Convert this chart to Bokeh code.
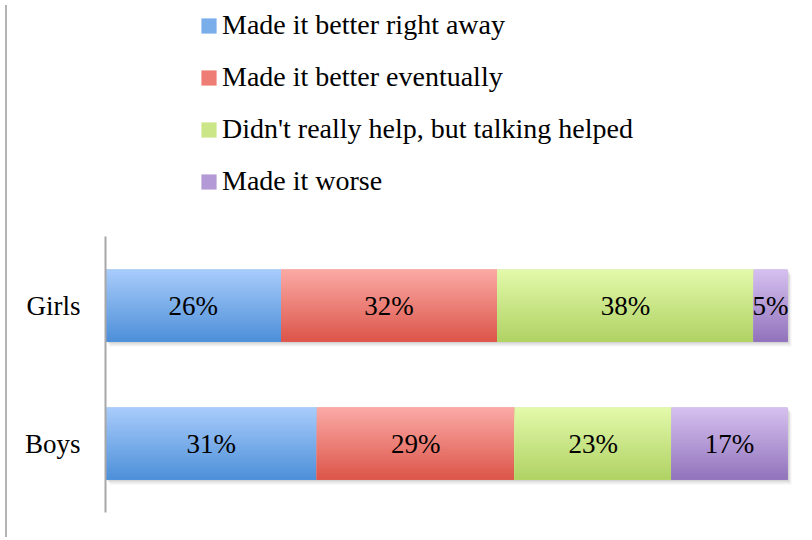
from bokeh.plotting import figure
from bokeh.models import Range1d, FixedTicker, Legend, LegendItem, ColumnDataSource, Div
from bokeh.layouts import row
from bokeh.core.properties import value
from bokeh.embed import file_html
from bokeh.resources import INLINE

# ---- data ----
groups = ["Boys", "Girls"]
series = ["Made it better right away", "Made it better eventually",
          "Didn't really help, but talking helped", "Made it worse"]
girls_values = [26, 32, 38, 5]
boys_values = [31, 29, 23, 17]
values = {"Boys": boys_values, "Girls": girls_values}

# ---- styles ----
top_colors = ["#a9ccfb", "#fbaaa5", "#e3f9ab", "#d6c1f0"]
bottom_colors = ["#4d8fd9", "#dc554a", "#b0d263", "#9173bb"]
mid_colors = ["#79aeeb", "#ee7d75", "#cbe687", "#b39ad6"]
FONT = "Liberation Serif"
BAR_H = 0.52
N_STRIPS = 24

W, H = 794, 532
LEFT, BOTTOM = 93, 20
PX_PER_100 = 682.0
PX_PER_GROUP = 138.0
x_end = (W - LEFT) / PX_PER_100 * 100
y_start = -0.5
y_end = y_start + (H - BOTTOM) / PX_PER_GROUP

p = figure(width=W, height=H, output_backend="svg", toolbar_location=None,
           x_range=Range1d(0, x_end), y_range=Range1d(y_start, y_end),
           min_border_left=LEFT, min_border_right=0, min_border_top=0,
           min_border_bottom=BOTTOM)
p.outline_line_color = None
p.grid.visible = False
p.xaxis.visible = False
p.background_fill_color = None
p.border_fill_color = None

yax = p.yaxis[0]
yax.ticker = FixedTicker(ticks=list(range(len(groups))))
yax.bounds = (-0.5, len(groups) - 0.5)
yax.major_label_overrides = {i: g for i, g in enumerate(groups)}
yax.major_tick_line_color = None
yax.minor_tick_line_color = None
yax.axis_line_color = "#a8a8a8"
yax.axis_line_width = 2
yax.major_label_text_font = FONT
yax.major_label_text_font_size = "27px"
yax.major_label_text_color = "#000000"
yax.major_label_standoff = 19


def hex2rgb(h):
    h = h.lstrip("#")
    return [int(h[i:i + 2], 16) for i in (0, 2, 4)]


def interp(c1, c2, t):
    a, b = hex2rgb(c1), hex2rgb(c2)
    return "#%02x%02x%02x" % tuple(int(round(a[i] + (b[i] - a[i]) * t)) for i in range(3))


# shadows
for dx_px, dy_px, alpha in [(1, 1, 0.10), (2.5, 3, 0.07), (4, 5, 0.05)]:
    dx = dx_px / PX_PER_100 * 100
    dy = dy_px / PX_PER_GROUP
    sl, sr, sb, st = [], [], [], []
    for gi, g in enumerate(groups):
        sl.append(dx)
        sr.append(100 + dx)
        sb.append(gi - BAR_H / 2 - dy)
        st.append(gi + BAR_H / 2 - dy)
    p.quad(left=sl, right=sr, bottom=sb, top=st, fill_color="#000000",
           fill_alpha=alpha, line_color=None)

renderers = []
lab_x, lab_y, lab_t = [], [], []
for si, s in enumerate(series):
    lefts, rights, bottoms, tops = [], [], [], []
    for gi, g in enumerate(groups):
        vals = values[g]
        tot = float(sum(vals))
        start = sum(vals[:si]) / tot * 100
        end = sum(vals[:si + 1]) / tot * 100
        lefts.append(start)
        rights.append(end)
        bottoms.append(gi - BAR_H / 2)
        tops.append(gi + BAR_H / 2)
        lab_x.append((start + end) / 2)
        lab_y.append(gi)
        lab_t.append(f"{vals[si]}%")
    src = ColumnDataSource(dict(left=lefts, right=rights, bottom=bottoms, top=tops))
    r = p.quad(left="left", right="right", bottom="bottom", top="top", source=src,
               fill_color=mid_colors[si], line_color=None)
    renderers.append(r)
    # gradient shading strips
    for k in range(N_STRIPS):
        t = (k + 0.5) / N_STRIPS
        col = interp(top_colors[si], bottom_colors[si], t)
        strip_top = [tp - BAR_H * k / N_STRIPS for tp in tops]
        p.quad(left=lefts, right=rights, bottom=bottoms, top=strip_top,
               fill_color=col, line_color=None)

p.text(x=lab_x, y=lab_y, text=lab_t, text_align="center", text_baseline="middle",
       text_font=value(FONT), text_font_size="27px", text_color="#000000")

legend = Legend(items=[LegendItem(label=s, renderers=[renderers[i]]) for i, s in enumerate(series)],
                location=(94, 315), orientation="vertical")
legend.glyph_width = 19
legend.glyph_height = 19
legend.label_height = 15
legend.label_standoff = 4
legend.spacing = 20
legend.padding = 0
legend.margin = 0
legend.border_line_color = None
legend.background_fill_alpha = 0
legend.label_text_font = FONT
legend.label_text_font_size = "28px"
legend.label_text_color = "#000000"
p.add_layout(legend, "center")

border = Div(width=2, height=H, styles={"background-color": "#b3b3b3"})
layout = row(border, p, spacing=0)

open("out.html", "w").write(file_html(layout, INLINE))
